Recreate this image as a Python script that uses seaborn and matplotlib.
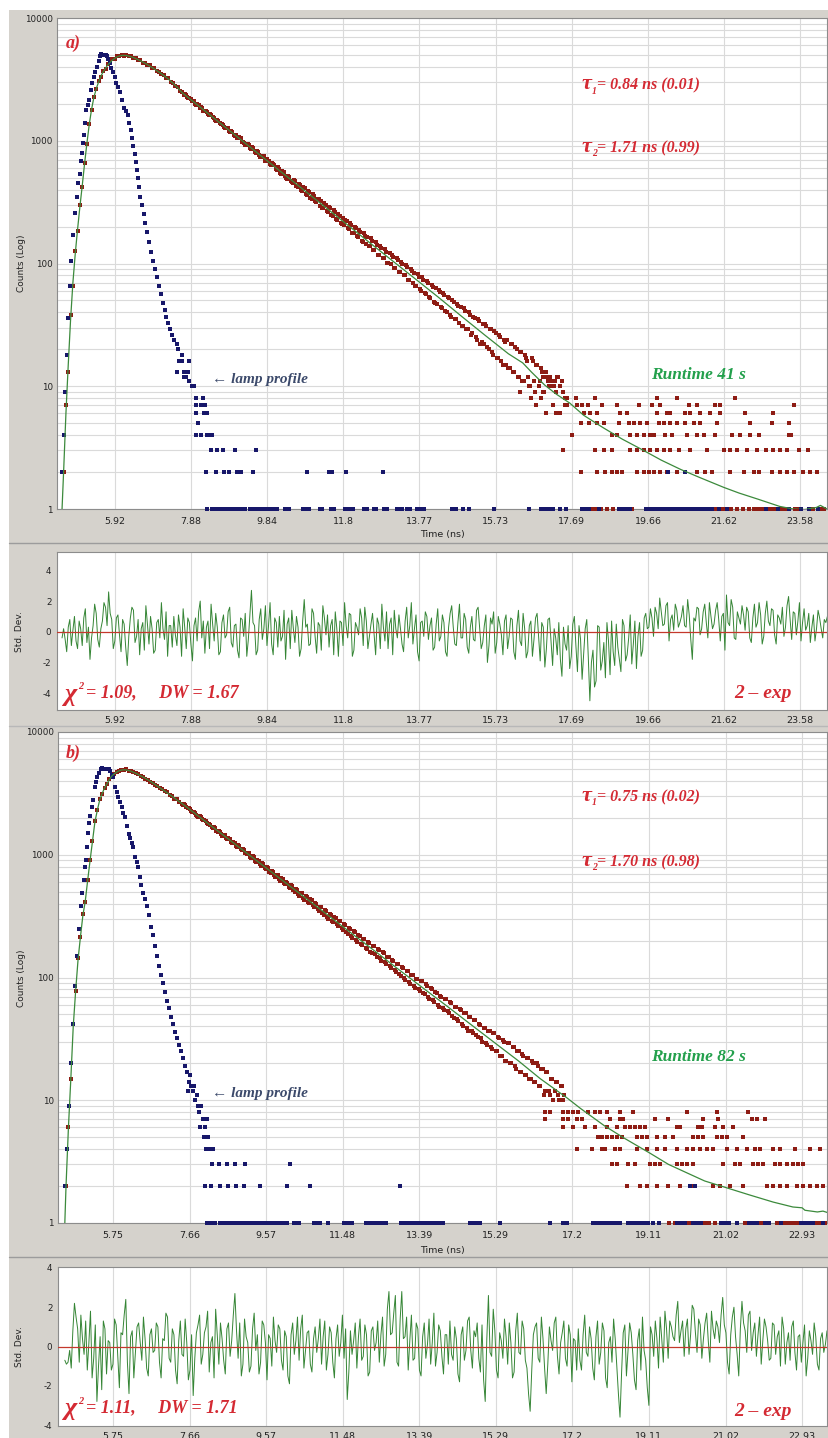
import numpy as np
import pandas as pd
import matplotlib
matplotlib.use("Agg")
import matplotlib.pyplot as plt
import seaborn as sns
from matplotlib.patches import Rectangle
from matplotlib.lines import Line2D
from matplotlib.ticker import FixedLocator, FixedFormatter, LogLocator, NullFormatter

sns.set_style("white")
plt.rcParams["font.family"] = ["DejaVu Sans"]

# ---------------- DATA ----------------
xticks_a = [5.92, 7.88, 9.84, 11.8, 13.77, 15.73, 17.69, 19.66, 21.62, 23.58]
xticks_b = [5.75, 7.66, 9.57, 11.48, 13.39, 15.29, 17.2, 19.11, 21.02, 22.93]
yticks_main = [1, 10, 100, 1000, 10000]
yticks_res = [-4, -2, 0, 2, 4]

# decay (sample) counts on channel grid t = start + step*i
decay_a_start, decay_a_step = 4.60, 0.06
decay_a = [2, 7, 13, 38, 66, 126, 184, 298, 421, 662, 936, 1372, 1781, 2276, 2622, 3041,
           3312, 3688, 3862, 4189, 4318, 4597, 4652, 4871, 4858, 5012, 4921, 4987, 4866, 4893,
           4721, 4718, 4541, 4527, 4339, 4322, 4133, 4104, 3912, 3887, 3691, 3660, 3472, 3441,
           3256, 3215, 3028, 2977, 2790, 2731, 2552, 2481,
           2395, 2262, 2231, 2120, 2089, 1958, 1940, 1872, 1761,
           1760, 1652, 1640, 1571, 1478, 1466, 1390, 1381, 1291, 1270,
           1201, 1205, 1122, 1121, 1045, 1050, 972, 931, 948, 876,
           884, 812, 826, 761, 735, 748, 681, 690, 629, 641,
           589, 606, 548, 567, 512, 491, 510, 458, 479, 425,
           446, 398, 419, 371, 388, 341, 366, 322, 338, 296,
           285, 309, 268, 290, 249, 271, 230, 254, 214, 235,
           228, 193, 214, 178, 199, 167, 189, 152, 177, 143,
           140, 161, 128, 150, 118, 138, 110, 131, 101, 122,
           117, 92, 111, 86, 103, 80, 98, 74, 91, 69,
           66, 82, 62, 78, 57, 72, 53, 67, 49, 63,
           61, 44, 58, 41, 53, 38, 50, 35, 47, 33,
           31, 43, 29, 40, 26, 37, 25, 35, 22, 32,
           32, 21, 29, 19, 28, 17, 26, 16, 24, 15,
           14, 22, 13, 21, 12, 19, 11, 18, 16, 10,
           17, 11, 15, 10, 14, 12, 13, 11, 12, 10,
           11, 12, 10, 11]
# in-between channels of the decay band (t = start + step*j)
decay_a_mid_start = 7.69
decay_a_mid = [2380, 2368, 2215, 2196, 2121, 1990, 1985, 1860, 1847,
               1731, 1718, 1620, 1612, 1545, 1452, 1450, 1362, 1349, 1262,
               1262, 1179, 1181, 1095, 1061, 1066, 986, 957, 921, 925,
               852, 866, 793, 811, 742, 758, 687, 706, 647, 655,
               639, 578, 592, 541, 553, 500, 517, 468, 455, 466,
               419, 438, 390, 410, 363, 382, 337, 356, 316, 333,
               323, 284, 300, 262, 281, 246, 264, 228, 244, 211,
               204, 222, 190, 207, 176, 193, 164, 181, 151, 168,
               163, 138, 152, 128, 141, 117, 133, 110, 125, 101,
               99, 114, 92, 106, 85, 99, 80, 93, 74, 87,
               83, 65, 78, 60, 74, 56, 69, 52, 64, 48,
               47, 59, 43, 55, 40, 52, 37, 49, 35, 45,
               44, 31, 41, 29, 38, 27, 36, 24, 34, 23,
               22, 31, 20, 29, 18, 27, 17, 25, 15, 23,
               24, 14, 22, 13, 20, 12, 19, 11, 17, 12,
               10, 16, 9, 15, 11, 13, 9, 12, 10, 11,
               10, 9, 12]

decay_b_start, decay_b_step = 4.58, 0.06
decay_b = [2, 6, 15, 42, 78, 145, 214, 330, 410, 620, 905, 1290, 1870, 2310, 2840, 3150,
           3520, 3760, 4110, 4380, 4560, 4720, 4810, 4930, 4880, 4960, 4850, 4790, 4720, 4600,
           4520, 4380, 4310, 4170, 4080, 3920, 3850, 3700, 3640, 3490, 3440, 3290, 3230, 3080,
           3010, 2870, 2820, 2690,
           2601, 2570, 2431, 2398, 2262, 2240, 2110, 2042, 2019, 1902,
           1889, 1770, 1762, 1651, 1648, 1540, 1537, 1432, 1436, 1339,
           1345, 1247, 1256, 1160, 1173, 1083, 1096, 1008, 1024, 940,
           958, 877, 893, 816, 836, 761, 781, 709, 729, 660,
           681, 615, 636, 574, 594, 534, 556, 497, 519, 463,
           486, 431, 456, 402, 427, 374, 399, 349, 373, 324,
           348, 301, 326, 281, 305, 261, 286, 243, 267, 226,
           250, 211, 233, 196, 218, 183, 204, 170, 191, 158,
           180, 147, 168, 137, 157, 128, 147, 119, 137, 111,
           129, 103, 120, 96, 112, 88, 104, 82, 98, 77,
           93, 73, 85, 67, 80, 63, 75, 58, 70, 54,
           67, 51, 62, 47, 57, 44, 54, 40, 51, 37,
           48, 35, 45, 33, 41, 30, 39, 28, 37, 26,
           35, 25, 32, 23, 30, 21, 29, 20, 27, 18,
           25, 17, 23, 16, 22, 15, 20, 14, 19, 13,
           18, 12, 17, 11, 15, 12, 14, 10, 13, 11]
decay_b_mid_start = 7.49
decay_b_mid = [2560, 2531, 2389, 2360, 2228, 2199, 2081, 2055, 1940, 1919,
               1810, 1795, 1690, 1672, 1575, 1561, 1470, 1460, 1370, 1361,
               1270, 1275, 1185, 1190, 1106, 1110, 1032, 1040, 962, 970,
               896, 908, 836, 849, 780, 794, 728, 741, 678, 690,
               632, 644, 590, 604, 549, 563, 512, 528, 477, 492,
               445, 461, 415, 432, 387, 403, 360, 377, 336, 352,
               311, 330, 290, 310, 271, 289, 251, 271, 233, 252,
               218, 237, 202, 221, 188, 206, 175, 193, 162, 180,
               154, 170, 143, 160, 133, 148, 124, 139, 115, 130,
               107, 122, 99, 113, 92, 105, 86, 98, 80, 93,
               75, 88, 70, 82, 65, 76, 60, 71, 56, 67,
               53, 63, 49, 58, 46, 55, 42, 51, 39, 48,
               37, 45, 34, 42, 32, 39, 29, 37, 27, 35,
               25, 33, 23, 31, 21, 29, 20, 27, 19, 25,
               17, 24, 16, 22, 15, 21, 14, 20, 13, 18,
               11, 17, 12, 15, 10, 14, 11, 13, 10]

# decay tail: integer count level -> times (ns)
tail_a = {
    9: [16.35, 16.74, 16.94, 17.28, 17.46],
    8: [16.64, 16.89, 17.51, 17.58, 17.79, 18.28, 19.89, 20.40, 21.89],
    7: [16.76, 17.20, 17.51, 17.58, 17.84, 17.97, 18.10, 18.48, 18.87, 19.43, 19.76, 19.97,
        20.71, 20.92, 21.38, 21.51, 23.43],
    6: [17.02, 17.28, 17.38, 18.02, 18.17, 18.35, 18.94, 19.12, 19.89, 20.15, 20.22, 20.61,
        20.74, 21.00, 21.25, 21.51, 22.15, 22.89],
    5: [17.92, 18.15, 18.35, 18.53, 18.92, 19.17, 19.30, 19.46, 19.64, 19.94, 20.07, 20.22,
        20.40, 20.61, 20.84, 21.00, 21.43, 22.28, 22.84, 23.30],
    4: [17.71, 18.74, 18.87, 19.20, 19.38, 19.56, 19.71, 19.81, 20.10, 20.28, 20.66, 20.92,
        21.10, 21.38, 21.81, 22.02, 22.28, 22.53, 23.28, 23.35],
    3: [17.46, 18.28, 18.53, 18.74, 19.20, 19.38, 19.56, 19.71, 19.89, 20.07, 20.22, 20.46,
        20.74, 21.17, 21.61, 21.76, 21.94, 22.20, 22.46, 22.71, 22.89, 23.05, 23.23, 23.56, 23.79],
    2: [17.92, 18.35, 18.56, 18.74, 18.87, 19.00, 19.38, 19.56, 19.69, 19.81, 19.97, 20.15,
        20.40, 20.92, 21.12, 21.30, 21.76, 22.12, 22.38, 22.53, 22.84, 23.05, 23.23, 23.43,
        23.66, 23.82, 24.00],
    1: [18.0, 18.1, 18.2, 18.3, 18.45, 18.6, 18.75, 18.9, 19.05, 19.25, 21.25, 21.4, 21.6,
        21.8, 21.95, 22.1, 22.25, 22.4, 22.5, 22.6, 22.8, 22.9, 23.1, 23.2, 23.45, 23.5, 23.9,
        24.1, 24.2],
}
tail_b = {
    8: [16.52, 16.65, 16.97, 17.10, 17.22, 17.35, 17.60, 17.77, 17.90, 18.07, 18.40, 18.72,
        20.07, 20.81, 21.59],
    7: [16.52, 16.97, 17.10, 17.32, 17.45, 18.15, 18.40, 18.47, 19.27, 19.59, 20.46, 20.84,
        21.69, 21.81, 22.01],
    6: [16.97, 17.22, 17.52, 17.77, 18.07, 18.32, 18.52, 18.64, 18.77, 18.89, 19.02, 19.82,
        19.89, 20.34, 20.44, 20.76, 20.96, 21.21],
    5: [17.85, 17.95, 18.07, 18.20, 18.32, 18.45, 18.82, 18.94, 19.07, 19.32, 19.52, 19.72,
        20.22, 20.34, 20.46, 20.81, 20.94, 21.06, 21.46],
    4: [17.32, 17.70, 17.95, 18.02, 18.27, 18.40, 18.82, 19.07, 19.32, 19.52, 19.82, 20.07,
        20.22, 20.39, 20.56, 20.71, 21.06, 21.31, 21.56, 21.76, 21.88, 22.21, 22.38, 22.76,
        23.13, 23.38],
    3: [18.20, 18.32, 18.60, 18.77, 19.15, 19.27, 19.39, 19.82, 19.94, 20.07, 20.22, 20.96,
        21.26, 21.39, 21.71, 21.84, 21.96, 22.26, 22.39, 22.56, 22.69, 22.83, 22.96],
    2: [18.57, 18.89, 19.07, 19.32, 19.59, 19.89, 20.19, 20.71, 20.89, 21.14, 21.46, 22.06,
        22.21, 22.39, 22.56, 22.81, 22.96, 23.13, 23.31, 23.46],
    1: [19.6, 19.75, 19.9, 20.1, 20.5, 20.6, 20.75, 21.3, 21.5, 21.9, 22.3, 22.5, 22.6, 22.7,
        22.8, 23.2, 23.3, 23.4, 23.5],
}

# lamp profile (instrument response)
lamp_a_t = [4.56, 4.60, 4.64, 4.68, 4.72, 4.76, 4.80, 4.85, 4.90, 4.94, 4.98, 5.02, 5.05, 5.07,
            5.10, 5.12, 5.15, 5.19, 5.22, 5.25, 5.30, 5.34, 5.38, 5.42, 5.46, 5.50, 5.53, 5.57,
            5.61, 5.65, 5.68, 5.71, 5.75, 5.79, 5.83, 5.87, 5.92, 5.96, 6.00, 6.05, 6.10, 6.15,
            6.20, 6.25, 6.29, 6.33, 6.37, 6.40, 6.43, 6.46, 6.49, 6.51, 6.55, 6.58, 6.62, 6.66,
            6.70, 6.75, 6.80, 6.85, 6.90, 6.95, 7.00, 7.05, 7.10, 7.15, 7.20, 7.25, 7.30, 7.35,
            7.40, 7.45]
lamp_a_c = [2, 4, 9, 18, 36, 65, 105, 170, 260, 350, 450, 540, 680, 800, 960, 1120, 1400, 1780,
            1950, 2140, 2600, 2950, 3300, 3650, 4000, 4450, 4900, 5050, 5000, 5020, 4950, 4900,
            4600, 4300, 3950, 3640, 3300, 2970, 2720, 2500, 2150, 1860, 1750, 1620, 1400, 1220,
            1050, 900, 780, 665, 580, 500, 420, 350, 300, 255, 215, 180, 150, 125, 105, 90, 78,
            66, 56, 48, 42, 37, 33, 29, 26, 24]
lamp_a_tail_t = [7.53, 7.56, 7.64, 7.58, 7.66, 7.84, 7.51, 7.71, 7.76, 7.81, 7.69, 7.76, 7.84,
                 7.92, 7.97, 8.00, 8.20, 8.02, 8.15, 8.25, 8.00, 8.23, 8.30, 8.07, 8.00, 8.15,
                 8.30, 8.40, 8.43, 8.40, 8.56, 8.71, 9.02, 9.56,
                 8.28, 8.53, 8.74, 8.87, 9.07, 9.17, 9.48, 10.87, 11.43, 11.51, 11.87, 12.84,
                 20.17, 20.61]
lamp_a_tail_c = [22, 20, 18, 16, 16, 16, 13, 13, 13, 13, 12, 12, 11, 10, 10, 8, 8, 7, 7, 7, 6,
                 6, 6, 5, 4, 4, 4, 4, 4, 3, 3, 3, 3, 3,
                 2, 2, 2, 2, 2, 2, 2, 2, 2, 2, 2, 2, 2, 2]
lamp_a_base = [8.30, 8.43, 8.49, 8.55, 8.61, 8.67, 8.73, 8.79, 8.85, 8.91, 8.97, 9.03, 9.09, 9.15,
               9.21, 9.27, 9.40, 9.46, 9.55, 9.62, 9.68, 9.75, 9.82, 9.90, 9.96, 10.02, 10.10,
               10.30, 10.36, 10.42, 10.78, 10.85, 10.92, 11.20, 11.26, 11.50, 11.56, 11.84,
               11.90, 12.00, 12.06, 12.35, 12.42, 12.60, 12.66, 12.86, 12.92, 13.20, 13.26,
               13.32, 13.45, 13.52, 13.70, 13.76, 13.82, 13.88, 14.60, 14.66, 14.72, 14.90,
               15.05, 15.70, 16.60, 16.90, 17.00, 17.10, 17.20, 17.40, 17.55, 17.95, 18.05,
               18.15, 18.40, 18.90, 19.00, 19.10, 19.20, 19.60, 19.70, 19.80, 19.90, 20.00,
               20.10, 20.20, 20.30, 20.40, 20.50, 20.60, 20.70, 20.80, 20.90, 21.00, 21.10,
               21.20, 21.30, 21.50, 21.70, 22.70, 23.00, 23.30, 23.60, 23.80, 24.05]

lamp_b_t = [4.55, 4.60, 4.65, 4.70, 4.75, 4.80, 4.85, 4.90, 4.95, 4.98, 5.02, 5.05, 5.08, 5.11,
            5.13, 5.16, 5.19, 5.23, 5.25, 5.30, 5.33, 5.36, 5.40, 5.44, 5.48, 5.52, 5.56, 5.60,
            5.64, 5.68, 5.72, 5.75, 5.80, 5.84, 5.88, 5.92, 5.97, 6.01, 6.05, 6.10, 6.14, 6.18,
            6.22, 6.25, 6.30, 6.34, 6.37, 6.42, 6.46, 6.50, 6.55, 6.60, 6.65, 6.70, 6.75, 6.80,
            6.85, 6.90, 6.95, 7.00, 7.05, 7.10, 7.15, 7.20, 7.25, 7.30, 7.35, 7.40, 7.45, 7.50,
            7.55, 7.60]
lamp_b_c = [2, 4, 9, 20, 42, 85, 150, 250, 380, 490, 620, 790, 900, 1150, 1500, 1800, 2050,
            2450, 2800, 3550, 3900, 4300, 4650, 5000, 5050, 5000, 5020, 4980, 5000, 4850, 4500,
            4300, 3550, 3250, 2950, 2700, 2450, 2200, 2040, 1700, 1480, 1380, 1250, 1150, 960,
            880, 790, 660, 570, 490, 440, 380, 320, 260, 220, 180, 150, 125, 105, 90, 76, 64, 56,
            48, 42, 36, 32, 28, 25, 22, 19, 17]
lamp_b_tail_t = [7.65, 7.70, 7.62, 7.75, 7.68, 7.80, 7.85, 7.78, 7.88, 7.90, 7.95, 8.00, 7.92,
                 8.05, 8.10, 8.02, 8.12, 8.08, 8.15, 8.25, 8.22, 8.40, 8.60, 8.80, 9.05, 10.17,
                 8.05, 8.20, 8.42, 8.62, 8.82, 9.02, 9.42, 10.10, 10.66, 12.90, 20.14, 20.27]
lamp_b_tail_c = [14, 13, 12, 12, 16, 10, 11, 13, 9, 8, 9, 7, 6, 6, 7, 5, 5, 4, 4, 4, 3, 3, 3, 3,
                 3, 3, 2, 2, 2, 2, 2, 2, 2, 2, 2, 2, 2, 2]
lamp_b_base = [8.10, 8.20, 8.30, 8.42, 8.48, 8.54, 8.60, 8.66, 8.72, 8.78, 8.84, 8.90, 8.96, 9.02,
               9.08, 9.14, 9.20, 9.30, 9.36, 9.42, 9.50, 9.56, 9.62, 9.70, 9.76, 9.82, 9.90,
               9.96, 10.02, 10.08, 10.26, 10.34, 10.40, 10.76, 10.84, 10.90, 11.10, 11.50,
               11.56, 11.62, 11.70, 12.05, 12.12, 12.20, 12.26, 12.34, 12.40, 12.50, 12.56,
               12.92, 13.00, 13.06, 13.14, 13.20, 13.30, 13.36, 13.42, 13.50, 13.58, 13.66,
               13.74, 13.82, 13.90, 13.98, 14.66, 14.74, 14.82, 14.90, 15.40, 16.65, 16.97,
               17.07, 17.72, 17.80, 17.88, 17.96, 18.04, 18.12, 18.20, 18.30, 18.38, 18.60,
               18.70, 18.80, 18.90, 19.00, 19.10, 19.20, 19.36, 19.80, 19.90, 20.00, 20.20,
               20.30, 20.40, 20.90, 21.00, 21.10, 21.30, 21.60, 21.70, 21.80, 22.00, 22.10,
               22.40, 22.90, 23.00, 23.10, 23.20, 23.45]

# 2-exp fit curves
fit_a_t = [4.56, 4.60, 4.66, 4.72, 4.78, 4.84, 4.90, 4.96, 5.02, 5.08, 5.14, 5.20, 5.26, 5.32,
           5.38, 5.44, 5.50, 5.56, 5.62, 5.68, 5.74, 5.80, 5.86, 5.92, 5.98, 6.04, 6.10, 6.16,
           6.22, 6.34, 6.46, 6.58, 6.70, 6.82, 6.94, 7.06, 7.18, 7.30, 7.42, 7.54, 7.66, 8.26,
           8.86, 9.46, 10.06, 10.66, 11.26, 11.86, 12.46, 13.06, 13.66, 14.26, 14.86, 15.46,
           16.06, 16.43, 16.66, 17.00, 17.30, 17.64, 18.00, 18.50, 19.00, 19.46, 20.00, 20.50,
           21.00, 21.61, 22.00, 22.50, 23.05, 23.40, 23.70, 24.00, 24.10, 24.27]
fit_a_c = [1, 2, 6, 15, 35, 70, 120, 190, 290, 430, 650, 950, 1350, 1800, 2250, 2650, 3000,
           3350, 3650, 3900, 4150, 4350, 4550, 4700, 4820, 4900, 4950, 4960, 4940, 4840, 4670,
           4480, 4280, 4060, 3840, 3620, 3400, 3180, 2940, 2700, 2455, 1731, 1220, 860, 606,
           428, 302, 213, 150, 106, 75, 53, 37, 26, 18.4, 15.5, 13, 10.2, 8.6, 7.3, 5.8, 4.6,
           3.7, 3.1, 2.5, 2.1, 1.8, 1.5, 1.35, 1.2, 1.05, 1.0, 0.99, 1.03, 1.07, 1.0]
fit_b_t = [4.55, 4.58, 4.64, 4.70, 4.76, 4.82, 4.88, 4.94, 5.00, 5.06, 5.12, 5.18, 5.24, 5.30,
           5.36, 5.42, 5.48, 5.54, 5.60, 5.66, 5.72, 5.78, 5.84, 5.90, 5.96, 6.02, 6.08, 6.14,
           6.20, 6.32, 6.44, 6.56, 6.68, 6.80, 6.92, 7.04, 7.16, 7.28, 7.40, 7.46, 8.06, 8.66,
           9.26, 9.86, 10.46, 11.06, 11.66, 12.26, 12.86, 13.46, 14.06, 14.66, 15.26, 15.86,
           16.40, 17.06, 17.40, 18.00, 18.50, 19.14, 19.60, 20.07, 20.50, 21.06, 21.60, 22.21,
           22.70, 22.93, 23.00, 23.31, 23.45, 23.55]
fit_b_c = [1, 2, 6, 15, 40, 78, 140, 215, 320, 420, 620, 900, 1290, 1850, 2300, 2800, 3150,
           3500, 3780, 4100, 4370, 4560, 4710, 4820, 4900, 4920, 4910, 4860, 4790, 4610, 4400,
           4190, 3970, 3730, 3510, 3300, 3100, 2900, 2710, 2630, 1862, 1318, 933, 660, 468,
           331, 234, 166, 117, 83, 59, 41.7, 29.5, 20.9, 15, 10.5, 8.6, 6.2, 4.9, 3.7, 3.0,
           2.55, 2.2, 1.93, 1.7, 1.48, 1.35, 1.33, 1.27, 1.23, 1.25, 1.22]

# weighted residuals (std. dev.) on channel grid; *_mid are the in-between channels
res_a_start, res_a_step = 4.56, 0.08
res_a = [-0.4, -0.5, 0.3, -0.9, 1.0, -1.1, 0.2, 0.9, -0.7, -1.8,
         0.4, 1.2, -1.0, 0.7, 1.6, 2.6, 0.8, -0.6, 1.1, -1.3,
         0.5, -2.2, 0.9, 1.4, -0.3, -1.5, 0.6, 1.7, -0.8, 0.2,
         -1.2, 0.8, 1.9, -0.5, -1.6, 0.4, 1.0, -0.9, 0.3, 1.5,
         -1.1, 0.6, -1.9, 0.9, 1.3, -0.4, -1.4, 0.7, 1.8, -0.6,
         0.3, -1.3, 1.1, -0.2, 1.6, -1.0, 0.5, -1.7, 0.8, 1.2,
         -0.5, 2.7, 0.4, -1.2, 1.5, 0.2, -0.9, 1.9, -1.5, 0.6,
         1.0, -0.3, -1.8, 0.9, 1.4, -0.7, 0.3, -1.1, 2.1, 0.5,
         -0.8, 1.2, -1.4, 0.4, 1.7, -0.2, -1.0, 0.8, 1.3, -1.6,
         0.6, 1.9, -0.4, 1.1, -1.2, 0.3, 1.5, -0.9, 0.7, -0.3,
         1.2, -1.5, 0.5, 1.8, -0.6, -1.1, 0.9, 1.4, -0.4, 0.2,
         -1.3, 1.6, 0.4, -0.8, 1.1, -1.9, 0.7, 1.3, -0.5, 0.9,
         -1.0, 1.5, -0.3, 0.6, -1.6, 1.2, 0.3, -0.9, 1.8, -0.4,
         0.8, -1.4, 1.0, -0.6, 1.6, -1.1, 0.4, -2.0, 0.9, 1.3,
         -0.7, 0.5, -1.5, 1.1, -0.3, 0.8, -1.8, 1.4, -0.9, 0.2,
         -1.3, 0.7, -0.5, 1.2, -1.9, 0.3, -1.1, 0.9, -2.2, -0.4,
         0.6, -2.9, -0.8, 0.4, -1.6, 1.0, -2.6, -0.5, -1.4, 0.8,
         -4.5, -1.2, -3.2, 0.3, -1.9, -3.0, -0.6, 0.7, -2.2, -1.0,
         -2.6, 0.4, -1.5, 1.1, -0.8, -2.4, 0.6, -1.2, 1.2, 0.3,
         0.9, 1.6, 0.2, 1.3, 0.5, 1.9, 0.8, 0.1, 1.4, 0.6,
         1.7, 0.3, 1.1, -1.8, 0.7, 1.5, 0.2, 1.8, -0.4, 1.0,
         0.5, 1.9, -0.6, 1.2, 2.4, 0.4, 1.6, -0.5, 0.9, 1.7,
         0.1, 1.3, -0.7, 1.8, 0.6, 1.1, -0.3, 2.0, 0.4, 1.4,
         -0.8, 0.9, 1.6, 0.3, 2.3, -0.5, 1.2, 0.7, -0.6, 1.5,
         0.4, -0.7, 1.1, 0.2, 0.9, -0.4, 0.6]
res_a_mid = [0.2, -1.3, 0.8, 0.1, -0.6, 0.7, -0.9, 1.5, 0.3, -0.4,
             1.8, -0.5, 0.2, 1.9, 0.4, 1.2, -1.1, 0.9, -0.2, 0.8,
             -1.0, -0.3, 1.6, -0.7, 0.8, 0.2, -1.2, 0.5, 1.0, -1.4,
             0.6, -0.4, 0.2, 1.3, 0.4, -1.0, -0.2, 1.1, -1.6, 0.3,
             0.9, -0.8, 0.4, -0.6, 2.0, 0.7, 0.3, -1.1, 0.5, 1.2,
             -1.5, 0.6, -0.4, 1.3, -0.7, 0.4, -1.2, 0.9, -0.3, -1.6,
             1.1, 0.6, -1.5, 0.8, -0.5, 1.7, 0.4, -0.8, 0.9, -1.0,
             -0.6, 1.4, 0.5, -1.1, 0.2, 1.0, -1.6, 0.7, 0.3, -0.9,
             1.5, -0.3, 0.6, -1.2, 0.9, 1.1, 0.4, -1.5, 0.2, 0.7,
             -0.9, 0.4, 1.2, -1.6, 0.6, -0.2, 0.9, 1.6, -1.1, 0.5,
             -0.2, 0.9, -1.1, 0.3, 1.3, 0.5, -1.5, 0.2, 1.1, -0.8,
             0.7, -0.4, 1.9, 0.2, -1.3, 0.6, -0.3, 1.0, 0.4, -1.2,
             0.5, -0.6, 1.1, -1.3, 0.3, 1.7, -0.8, 0.6, -0.4, 1.2,
             -1.0, 0.3, -0.5, 1.4, 0.2, -0.7, 1.1, -0.9, 0.5, -1.4,
             1.0, -0.2, 0.7, -1.1, 0.9, -1.3, 0.4, -0.6, 1.2, -1.7,
             0.4, -1.6, 0.9, -0.3, 0.6, -2.3, 0.8, -0.7, 0.2, -1.5,
             -1.8, 0.3, -1.2, -2.4, 0.5, -0.9, 0.4, -3.1, 0.2, -1.7,
             -2.0, -3.6, 0.4, -2.5, -0.7, 0.6, -2.8, -1.3, 0.5, -1.8,
             0.8, -1.9, -0.4, -2.1, 0.7, -0.3, -1.6, 0.9, 0.2, 1.5,
             -0.3, 1.2, 2.2, 0.4, 1.7, -0.6, 1.1, 1.8, 0.3, 1.0,
             0.4, 2.1, -0.5, 0.9, 1.6, -0.2, 1.3, 0.6, 1.9, 0.2,
             1.4, 0.8, 1.0, -1.2, 0.6, 2.1, -0.4, 1.3, 0.5, 1.1,
             1.6, -0.4, 0.9, 0.3, 1.9, -0.8, 1.2, 0.7, 1.5, -0.2,
             1.1, 0.5, -0.3, 1.7, 0.8, 1.3, -0.2, 1.9, 0.6, 0.1,
             1.2, 0.3, -0.6, 1.4, 0.2, 0.8, 1.0]
res_b_start, res_b_step = 4.55, 0.08
res_b = [-0.7, -0.8, -1.1, 2.2, 0.9, 1.6, -0.4, -1.2, 1.8, -0.6,
         -2.8, 0.5, 1.3, -1.4, 0.2, -0.9, 1.1, -2.1, 0.6, 2.4,
         -2.4, 0.8, -0.3, 1.2, -0.7, 0.4, -1.5, 0.9, -0.2, 1.0,
         -1.6, 0.3, 1.5, -0.8, 0.6, -1.9, 1.3, -0.5, 0.2, -1.2,
         -2.5, 0.7, 1.6, -0.4, 1.0, -1.3, 0.5, 1.9, -0.9, 0.4,
         -1.4, 1.2, 0.3, 2.7, -0.6, -1.5, 1.4, 0.2, -1.0, 1.7,
         0.6, -0.8, 1.1, -1.7, 0.4, 1.5, -0.3, 0.9, -1.2, 0.5,
         -1.9, 1.2, 0.3, -0.7, 1.6, -0.2, 0.8, -1.3, 1.0, 0.4,
         -0.9, 1.3, -0.4, 0.7, -1.6, 1.1, 0.2, -0.6, -2.7, 0.8,
         0.3, -1.1, 1.4, -0.5, 0.6, -1.3, 1.0, 0.2, -0.8, 1.5,
         -0.4, 2.8, 0.7, 2.6, -1.0, 2.8, 0.5, -1.2, 1.6, -0.6,
         0.9, -1.5, 1.2, 0.1, -0.9, 1.7, -0.3, 0.8, -1.4, 0.6,
         1.3, -0.7, 0.4, -1.8, 1.0, -0.2, 1.5, -1.1, 0.5, -0.6,
         1.1, -2.8, 2.6, -0.5, 0.8, -1.6, 0.3, 1.4, -0.9, 0.2,
         -1.3, 1.7, -0.4, 0.9, -1.1, -3.3, 0.6, 1.2, -0.8, 0.4,
         -2.4, 1.0, -0.2, 1.5, -1.4, 0.7, -0.6, 1.1, -1.8, 0.3,
         0.9, -1.2, 1.6, -0.5, 0.4, -1.7, 1.3, -0.3, 0.8, -2.1,
         0.5, 1.4, -1.0, -3.6, 0.7, -1.5, 1.2, -0.4, -2.2, 0.9,
         1.5, -0.7, -3.0, 0.6, 1.3, -1.1, 0.4, 1.8, -0.6, 1.0,
         0.3, 2.3, 0.8, -0.5, 1.4, 0.6, 1.9, -0.3, 1.1, 0.4,
         1.7, -0.8, 0.9, 1.3, 0.2, 2.5, 0.7, -1.4, 1.5, 0.5,
         -1.5, 2.3, 0.8, 1.6, -0.2, 1.2, 0.6, -0.9, 1.4, 0.3,
         -0.6, 1.1, 0.5, -1.0, 0.9, 0.2, -0.7, 1.3, -1.2, 0.6,
         0.2, -1.5, 0.8, -0.4, 0.5, -1.2, 0.7, 0.1]
res_b_mid = [-0.9, -0.2, 0.8, 1.5, -0.8, 0.4, 1.3, 0.2, -1.6, 1.1,
             -1.0, -2.2, 0.9, 0.3, -1.2, 1.4, -0.5, 0.7, 1.6, -0.8,
             0.5, -1.6, 1.0, 0.2, 1.5, -1.1, 0.6, -0.3, 1.2, -0.8,
             0.4, 1.7, -0.6, 0.9, -1.2, 0.3, -0.4, 1.4, -1.7, 0.6,
             -0.6, 1.1, -0.9, 0.7, 1.8, 0.2, -1.6, 0.6, 1.2, -0.7,
             0.9, -0.5, 1.6, 0.8, 1.2, -0.9, 0.5, -1.3, 0.9, -0.2,
             -1.4, 1.3, 0.2, 0.6, -1.0, 0.3, 1.1, -0.7, 0.8, -1.5,
             0.6, -0.4, 1.5, 0.9, -1.1, 0.7, -0.9, 0.4, -0.3, 1.4,
             0.5, -1.2, 1.0, -0.8, 0.4, -0.5, 1.6, 0.9, -1.3, -0.4,
             1.2, 0.5, -0.7, 1.1, -1.5, 0.8, -0.2, 1.3, 0.6, -1.0,
             1.9, 0.6, 1.7, -0.8, 1.4, 0.4, 1.5, 0.3, -0.7, 1.2,
             -1.2, 0.5, -0.6, 1.4, 0.2, -1.0, 1.1, -0.5, 0.6, -0.9,
             -0.4, 1.0, -1.4, 0.6, -0.7, 1.3, -0.2, 0.8, 1.2, -1.3,
             -1.7, 0.4, -0.3, 1.9, -1.2, 0.7, -0.6, 0.5, 1.2, -1.6,
             0.8, -0.3, 1.3, -0.7, -2.4, -1.2, 1.0, -0.6, 1.5, -1.1,
             -0.9, 0.3, 1.2, -0.5, 0.2, 1.3, -1.0, 0.6, 0.4, -1.2,
             -0.7, 0.6, -0.3, 1.0, -1.1, 0.5, -0.9, 1.2, -1.6, 0.2,
             -0.8, 0.4, -2.4, -1.3, 1.1, -0.2, 0.7, -1.7, 0.3, -1.2,
             -0.2, -2.1, 1.0, -0.5, 0.4, 1.5, -0.8, 0.9, 1.3, 0.5,
             1.6, 0.2, 1.3, 0.9, -0.4, 2.1, 0.7, 1.4, -0.6, 1.2,
             0.3, 1.8, 0.4, 1.0, 1.6, 1.1, -0.8, 0.6, 2.0, -0.4,
             0.9, 1.2, -0.3, 1.8, 0.7, -0.5, 1.5, 0.3, 1.0, -0.7,
             1.2, -0.4, 0.8, 1.5, -0.9, 0.7, 1.0, -0.3, 0.5, -0.8,
             1.1, -0.6, 0.3, 1.2, -0.9, 0.4, -0.3, 0.8]

# annotation texts
panel_labels = ["a)", "b)"]
tau1_text = ["= 0.84 ns (0.01)", "= 0.75 ns (0.02)"]
tau2_text = ["= 1.71 ns (0.99)", "= 1.70 ns (0.98)"]
runtime_text = ["Runtime 41 s", "Runtime 82 s"]
chi_text = ["= 1.09,     DW = 1.67", "= 1.11,     DW = 1.71"]

# ---------------- STYLE / LAYOUT ----------------
W, H = 829, 1438
fig = plt.figure(figsize=(W / 100, H / 100), dpi=100)
fig.patch.set_facecolor("white")
BG = "#d5d2cc"
fig.add_artist(Rectangle((9 / W, 0), (W - 9) / W, (H - 10) / H, transform=fig.transFigure,
                         facecolor=BG, edgecolor="none", zorder=-10))
for yy, col in [(543, "#9c9c9c"), (1257, "#9c9c9c"), (726, "#b8b8b8")]:
    fig.add_artist(Line2D([9 / W, 1], [1 - yy / H, 1 - yy / H], transform=fig.transFigure,
                          color=col, lw=1.0, zorder=-5))

RED = "#8e1c14"
NAVY = "#17176a"
FITG = "#3c8a3c"
RESG = "#358535"
TXTRED = "#d42a33"
TXTGRN = "#23a04c"
LAMPC = "#3c4a6b"
GRID = "#dadada"
SERIF = ["Liberation Serif", "DejaVu Serif"]


def px_axes(l, t, r, b):
    return fig.add_axes([l / W, 1 - b / H, (r - l) / W, (b - t) / H])


def ftext(x, y, s, **kw):
    kw.setdefault("va", "center")
    kw.setdefault("ha", "left")
    fig.text(x / W, 1 - y / H, s, **kw)


def style_frame(ax):
    ax.set_facecolor("white")
    for sp in ax.spines.values():
        sp.set_color("#8c8c8c")
        sp.set_linewidth(0.8)


def scatter(ax, t, c, color):
    sns.scatterplot(x=t, y=c, ax=ax, marker="s", s=5, color=color, linewidth=0,
                    legend=False, zorder=3)
    ax.collections[-1].set_clip_on(False)


def main_panel(ax, xlim, xticks, dec_start, dec_step, decay, mid_start, decay_mid, tail,
               lamp_t, lamp_c, lamp_tail_t, lamp_tail_c, lamp_base, fit_t, fit_c):
    style_frame(ax)
    ax.set_yscale("log")
    dec_t = np.concatenate([dec_start + dec_step * np.arange(len(decay)),
                            mid_start + dec_step * np.arange(len(decay_mid))])
    df = pd.DataFrame({"t": dec_t, "c": list(decay) + list(decay_mid)})
    tail_t = [tt for lvl, ts in tail.items() for tt in ts]
    tail_c = [lvl for lvl, ts in tail.items() for tt in ts]
    scatter(ax, df["t"], df["c"], RED)
    scatter(ax, tail_t, tail_c, RED)
    scatter(ax, lamp_t, lamp_c, NAVY)
    scatter(ax, lamp_tail_t, lamp_tail_c, NAVY)
    scatter(ax, lamp_base, [1] * len(lamp_base), NAVY)
    sns.lineplot(x=fit_t, y=fit_c, ax=ax, color=FITG, lw=0.9, legend=False, zorder=4)
    ax.set_xlim(*xlim)
    ax.set_ylim(1, 10000)
    ax.xaxis.set_major_locator(FixedLocator(xticks))
    ax.xaxis.set_major_formatter(FixedFormatter([f"{v:g}" for v in xticks]))
    ax.yaxis.set_major_locator(FixedLocator(yticks_main))
    ax.yaxis.set_major_formatter(FixedFormatter([str(v) for v in yticks_main]))
    ax.yaxis.set_minor_locator(LogLocator(base=10, subs=np.arange(2, 10)))
    ax.yaxis.set_minor_formatter(NullFormatter())
    ax.grid(True, axis="x", which="major", color=GRID, lw=0.8)
    ax.grid(True, axis="y", which="both", color=GRID, lw=0.8)
    ax.set_axisbelow(True)
    ax.tick_params(axis="x", which="major", direction="out", length=4.5, width=0.9,
                   color="#303030", labelsize=6.8, pad=1.5, labelcolor="#222222")
    ax.tick_params(axis="y", which="both", length=0, labelsize=6.3, pad=3,
                   labelcolor="#222222")
    ax.set_xlabel("")
    ax.set_ylabel("")


def res_panel(ax, xlim, ylim, xticks, start, step, res, res_mid):
    style_frame(ax)
    t = np.concatenate([start + step * np.arange(len(res)),
                        start + step / 2 + step * np.arange(len(res_mid))])
    df = pd.DataFrame({"t": t, "r": list(res) + list(res_mid)}).sort_values("t")
    sns.lineplot(data=df, x="t", y="r", ax=ax, color=RESG, lw=0.7, legend=False, zorder=3)
    ax.axhline(0, color="#c4382c", lw=0.9, zorder=4)
    ax.set_xlim(*xlim)
    ax.set_ylim(*ylim)
    ax.xaxis.set_major_locator(FixedLocator(xticks))
    ax.xaxis.set_major_formatter(FixedFormatter([f"{v:g}" for v in xticks]))
    ax.yaxis.set_major_locator(FixedLocator(yticks_res))
    ax.yaxis.set_major_formatter(FixedFormatter([str(v) for v in yticks_res]))
    ax.grid(True, axis="x", color=GRID, lw=0.8)
    ax.set_axisbelow(True)
    ax.tick_params(axis="x", length=0, labelsize=6.8, pad=4, labelcolor="#222222")
    ax.tick_params(axis="y", length=0, labelsize=6.3, pad=4, labelcolor="#222222")
    ax.set_xlabel("")
    ax.set_ylabel("")


xlim_a = (4.43, 24.27)
xlim_b = (4.38, 23.55)

ax_a = px_axes(57, 18, 827, 509)
main_panel(ax_a, xlim_a, xticks_a, decay_a_start, decay_a_step, decay_a, decay_a_mid_start,
           decay_a_mid, tail_a, lamp_a_t, lamp_a_c, lamp_a_tail_t, lamp_a_tail_c, lamp_a_base,
           fit_a_t, fit_a_c)
ax_ra = px_axes(57, 552, 827, 710)
res_panel(ax_ra, xlim_a, (-5.1, 5.2), xticks_a, res_a_start, res_a_step, res_a, res_a_mid)

ax_b = px_axes(58, 732, 827, 1223)
main_panel(ax_b, xlim_b, xticks_b, decay_b_start, decay_b_step, decay_b, decay_b_mid_start,
           decay_b_mid, tail_b, lamp_b_t, lamp_b_c, lamp_b_tail_t, lamp_b_tail_c, lamp_b_base,
           fit_b_t, fit_b_c)
ax_rb = px_axes(58, 1267, 827, 1426)
res_panel(ax_rb, xlim_b, (-4.05, 4.05), xticks_b, res_b_start, res_b_step, res_b, res_b_mid)

# axis titles
for yc in (263, 978):
    ftext(22, yc, "Counts (Log)", rotation=90, ha="center", fontsize=6.5, color="#222222")
for yc in (632, 1347):
    ftext(20, yc, "Std. Dev.", rotation=90, ha="center", fontsize=6.5, color="#222222")
for yc in (535, 1250):
    ftext(442, yc, "Time (ns)", ha="center", fontsize=6.8, color="#222222")

# annotations
serif = dict(family=SERIF, weight="bold", style="italic")
for k, (ylab, yt1, yt2, yrun, ylamp, ychi, yexp) in enumerate(
        [(43, 85, 148, 375, 379, 693, 693),
         (753, 797, 862, 1057, 1093, 1408, 1411)]):
    ftext(66, ylab, panel_labels[k], color=TXTRED, fontsize=13, **serif)
    for yt, txt, sub in [(yt1, tau1_text[k], "1"), (yt2, tau2_text[k], "2")]:
        ftext(582, yt - 1, "τ", color=TXTRED, fontsize=16, **serif)
        ftext(592, yt + 6, sub, color=TXTRED, fontsize=7, **serif)
        ftext(597, yt, txt, color=TXTRED, fontsize=11.5, **serif)
    ftext(651, yrun, runtime_text[k], color=TXTGRN, fontsize=12.5, **serif)
    ftext(212, ylamp, "\u2190 lamp profile", color=LAMPC, fontsize=11, **serif)
    ftext(64, ychi + 1, "χ", color=TXTRED, fontsize=19, **serif)
    ftext(78.5, ychi - 6, "2", color=TXTRED, fontsize=7.5, **serif)
    ftext(86, ychi, chi_text[k], color=TXTRED, fontsize=13, **serif)
    ftext(734, yexp, "2 \u2013 exp", color=TXTRED, fontsize=14, **serif)

fig.savefig("out.png", dpi=100, facecolor=fig.get_facecolor())
